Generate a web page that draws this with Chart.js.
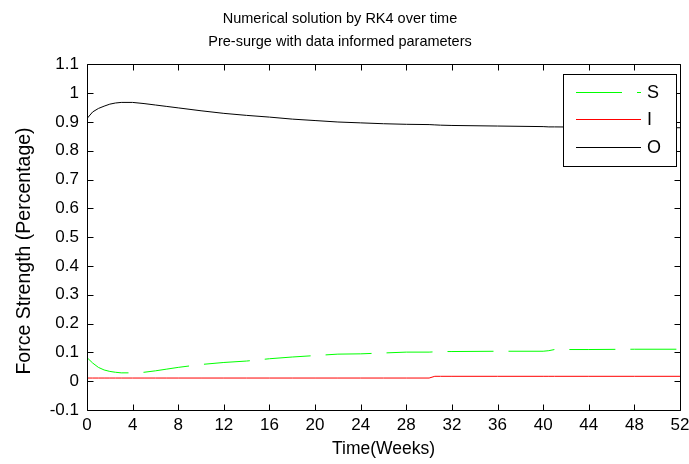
<!DOCTYPE html>
<html>
<head>
<meta charset="utf-8">
<script src="https://cdn.jsdelivr.net/npm/chart.js@4/dist/chart.umd.min.js"></script>
<style>
html,body{margin:0;padding:0;background:#fff;}
#wrap{width:689px;height:464px;position:relative;}
</style>
</head>
<body>
<div id="wrap"><canvas id="c" width="689" height="464"></canvas></div>
<script>
// ---- data ----
const weeks = [0,0.5,1,1.5,2,2.5,3,4,5,6,7,8,10,12,14,16,18,20,22,24,26,28,30,30.5,31,32,36,40,40.5,41,44,48,52];
const S = [0.082,0.063,0.048,0.039,0.034,0.031,0.029,0.029,0.031,0.036,0.042,0.048,0.058,0.065,0.070,0.078,0.084,0.089,0.094,0.095,0.098,0.101,0.101,0.102,0.103,0.103,0.104,0.104,0.106,0.110,0.110,0.111,0.111];
const I = [0.011,0.011,0.011,0.011,0.011,0.011,0.011,0.011,0.011,0.011,0.011,0.011,0.011,0.011,0.011,0.011,0.011,0.011,0.011,0.011,0.011,0.011,0.011,0.017,0.017,0.017,0.017,0.017,0.017,0.017,0.017,0.017,0.017];
const O = [0.912,0.935,0.947,0.955,0.962,0.966,0.968,0.968,0.964,0.959,0.954,0.949,0.939,0.930,0.923,0.917,0.910,0.905,0.900,0.897,0.894,0.892,0.891,0.890,0.889,0.888,0.886,0.884,0.883,0.883,0.882,0.881,0.880];
const seriesNames = ['S','I','O'];
const titleLines = ['Numerical solution by RK4 over time','Pre-surge with data informed parameters'];
const xTitle = 'Time(Weeks)';
const yTitle = 'Force Strength (Percentage)';
const xMin = 0, xMax = 52, xStep = 4;
const yMin = -0.1, yMax = 1.1, yStep = 0.1;

const FONT = "'Liberation Sans', Arial, sans-serif";
Chart.defaults.font.family = FONT;
Chart.defaults.color = '#000';

const toPts = arr => weeks.map((w, i) => ({x: w, y: arr[i]}));

const framePlugin = {
  id: 'frame',
  afterDatasetsDraw(chart) {
    const {ctx, chartArea: a, scales} = chart;
    ctx.save();
    ctx.strokeStyle = '#000';
    ctx.lineWidth = 1;
    const L = Math.round(a.left) + 0.5, R = Math.round(a.right) + 0.5;
    const T = Math.round(a.top) + 0.5, B = Math.round(a.bottom) + 0.5;
    ctx.beginPath();
    ctx.rect(L, T, R - L, B - T);
    const tl = 6;
    scales.x.ticks.forEach(t => {
      const px = Math.round(scales.x.getPixelForValue(t.value)) + 0.5;
      ctx.moveTo(px, B); ctx.lineTo(px, B - tl);
      ctx.moveTo(px, T); ctx.lineTo(px, T + tl);
    });
    scales.y.ticks.forEach(t => {
      const py = Math.round(scales.y.getPixelForValue(t.value)) + 0.5;
      ctx.moveTo(L, py); ctx.lineTo(L + tl, py);
      ctx.moveTo(R, py); ctx.lineTo(R - tl, py);
    });
    ctx.stroke();

    // y-axis title (placed as in the reference, slightly below the plot centre)
    ctx.save();
    ctx.translate(25, 251);
    ctx.rotate(-Math.PI / 2);
    ctx.fillStyle = '#000';
    ctx.font = "19.5px " + FONT;
    ctx.textAlign = 'center';
    ctx.textBaseline = 'middle';
    ctx.fillText(yTitle, 0, 0);
    ctx.restore();

    // legend box
    const bx = 563.5, by = 74.5, bw = 113, bh = 92;
    ctx.fillStyle = '#fff';
    ctx.fillRect(bx, by, bw, bh);
    ctx.strokeStyle = '#000';
    ctx.strokeRect(bx, by, bw, bh);
    const rows = [92, 119, 147];
    chart.data.datasets.forEach((ds, i) => {
      const y = rows[i] + 0.5;
      ctx.beginPath();
      ctx.lineWidth = 1;
      ctx.strokeStyle = ds.borderColor;
      ctx.setLineDash(ds.borderDash || []);
      ctx.moveTo(576, y); ctx.lineTo(641, y);
      ctx.stroke();
      ctx.setLineDash([]);
      ctx.fillStyle = '#000';
      ctx.font = "18px " + FONT;
      ctx.textBaseline = 'middle';
      ctx.textAlign = 'left';
      ctx.fillText(ds.label, 647, rows[i] + 1);
    });
    ctx.restore();
  }
};

new Chart(document.getElementById('c'), {
  type: 'line',
  data: {
    datasets: [
      {label: seriesNames[0], data: toPts(S), borderColor: '#00ff00', borderWidth: 1, borderDash: [46, 15], pointRadius: 0, tension: 0, fill: false},
      {label: seriesNames[1], data: toPts(I), borderColor: '#ff0000', borderWidth: 1, pointRadius: 0, tension: 0, fill: false},
      {label: seriesNames[2], data: toPts(O), borderColor: '#000000', borderWidth: 1, pointRadius: 0, tension: 0, fill: false}
    ]
  },
  options: {
    responsive: false,
    animation: false,
    events: [],
    layout: {padding: {left: 0, right: 9, top: 0, bottom: 0}},
    plugins: {
      legend: {display: false},
      tooltip: {enabled: false},
      title: {
        display: true,
        text: titleLines,
        color: '#000',
        font: {family: FONT, size: 14.5, weight: 'normal', lineHeight: 1.6},
        padding: {top: 7, bottom: 11}
      }
    },
    scales: {
      x: {
        type: 'linear',
        min: xMin, max: xMax,
        grid: {display: false, drawTicks: false},
        border: {display: false},
        ticks: {stepSize: xStep, autoSkip: false, maxRotation: 0, padding: 5, font: {size: 17}, color: '#000'},
        title: {display: true, text: xTitle, font: {size: 17.5}, color: '#000', padding: {top: 0, bottom: 4}},
        afterFit(s) { s.height = 54; s.paddingLeft = 0; s.paddingRight = 0; }
      },
      y: {
        type: 'linear',
        min: yMin, max: yMax,
        grid: {display: false, drawTicks: false},
        border: {display: false},
        ticks: {stepSize: yStep, autoSkip: false, padding: 8, font: {size: 17}, color: '#000',
          callback: v => { const r = Math.round(v * 10) / 10; return r === 0 ? '0' : String(r); }},
        title: {display: false},
        afterFit(s) { s.width = 87; }
      }
    }
  },
  plugins: [framePlugin]
});
</script>
</body>
</html>
